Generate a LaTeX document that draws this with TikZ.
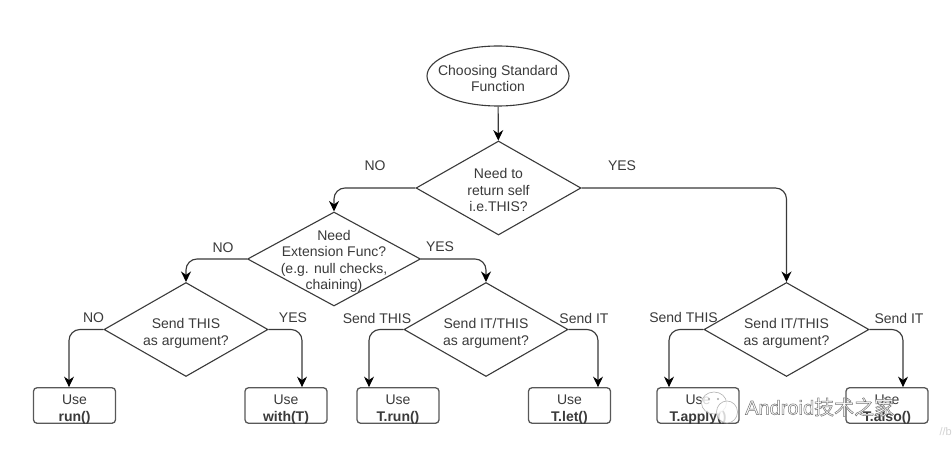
\documentclass[tikz,border=0pt]{standalone}
\usepackage{fontspec}
\setmainfont{Liberation Sans}
\newfontfamily\cjkfont{Noto Sans CJK SC}
\usetikzlibrary{shapes.geometric,arrows.meta}
\definecolor{ink}{HTML}{3A3A3A}
\newcommand{\dtext}[2][0pt]{\smash{\makebox[0pt]{\raisebox{#1}{\begin{tabular}[c]{@{}c@{}}#2\end{tabular}}}}}
\tikzset{
  x=1pt,y=-1pt,
  every node/.style={font=\fontsize{14}{16.5}\selectfont,text=ink},
  startbox/.style={ellipse,draw=ink,line width=1.1pt,minimum width=142pt,minimum height=60pt,inner sep=0pt},
  choice/.style={diamond,draw=ink,line width=1.1pt,inner sep=0pt,minimum width=165pt,minimum height=94pt},
  usebox/.style={rectangle,rounded corners=3.5pt,draw=ink!85,line width=1.3pt,minimum width=82pt,minimum height=35.5pt,inner sep=0pt},
  flow/.style={draw=ink,line width=1.15pt,rounded corners=11pt,-{Stealth[length=10.5pt,width=10pt,color=black]}},
  branch/.style={inner sep=0pt},
}
\begin{document}
\begin{tikzpicture}
\useasboundingbox[fill=white] (0,0) rectangle (952,449);
\node[startbox] (start) at (498,76) {\dtext[-8pt]{Choosing Standard\\Function}};
\node[choice] (self) at (498.5,188) {\dtext[-7.5pt]{Need to\\return self\\i.e.THIS?}};
\node[choice,minimum width=173pt] (ext) at (334,259) {\dtext[-6.5pt]{Need\\Extension Func?\\(e.g. null checks,\\chaining)}};
\node[choice,minimum width=164pt] (argl) at (186,329.5) {\dtext[-8pt]{Send THIS\\as argument?}};
\node[choice,minimum width=164pt] (argm) at (486,329.5) {\dtext[-8pt]{Send IT/THIS\\as argument?}};
\node[choice,minimum width=165pt] (argr) at (786.5,329.5) {\dtext[-8pt]{Send IT/THIS\\as argument?}};
\node[usebox] (run) at (74.5,405.5) {\dtext[-8pt]{Use\\\textbf{run()}}};
\node[usebox] (with) at (286,405.5) {\dtext[-8pt]{Use\\\textbf{with(T)}}};
\node[usebox] (trun) at (398,405.5) {\dtext[-8pt]{Use\\\textbf{T.run()}}};
\node[usebox] (tlet) at (569.5,405.5) {\dtext[-8pt]{Use\\\textbf{T.let()}}};
\node[usebox] (tapply) at (698,405.5) {\dtext[-8pt]{Use\\\textbf{T.apply()}}};
\node[usebox] (talso) at (887,405.5) {\dtext[-8pt]{Use\\\textbf{T.also()}}};
\draw[flow] (start) -- (self);
\draw[flow] (self.west) -| (ext.north);
\draw[flow] (self.east) -| (argr.north);
\draw[flow] (ext.west) -| (argl.north);
\draw[flow] (ext.east) -| (argm.north);
\draw[flow] (argl.west) -| ([xshift=-5.5pt]run.north);
\draw[flow] (argl.east) -| ([xshift=16pt]with.north);
\draw[flow] (argm.west) -| ([xshift=-29pt]trun.north);
\draw[flow] (argm.east) -| ([xshift=28.5pt]tlet.north);
\draw[flow] (argr.west) -| ([xshift=-29pt]tapply.north);
\draw[flow] (argr.east) -| ([xshift=16pt]talso.north);
\node[branch] (l1) at (375,165.5) {NO};
\node[branch] (l2) at (622,165.5) {YES};
\node[branch] (l3) at (223,247.5) {NO};
\node[branch] (l4) at (440,246.5) {YES};
\node[branch] (l5) at (93.5,318) {NO};
\node[branch] (l6) at (293,318) {YES};
\node[branch] (l7) at (377,318) {Send THIS};
\node[branch] (l8) at (584,318) {Send IT};
\node[branch] (l9) at (683.5,317) {Send THIS};
\node[branch] (l10) at (899,318) {Send IT};
% watermark
\draw[gray!60,line width=.6pt,fill=white,fill opacity=.8] (714,403) ellipse (12.5pt and 11pt);
\draw[gray!60,line width=.6pt,fill=white,fill opacity=.8] (727,412) ellipse (10.5pt and 11pt);
\fill[gray!70] (709,399) circle (1.2pt) (718,399) circle (1.2pt);
\node[inner sep=0pt,anchor=west] (mark) at (745,407) {\fontsize{20}{24}\selectfont\special{pdf:code q 2 Tr 0.5 w 0.45 G 1 g}Android{\cjkfont 技术之家}\special{pdf:code Q}};
\node[inner sep=0pt,anchor=east,text=gray!35,font=\fontsize{11}{13}\selectfont] (tail) at (952,432) {//b};
\end{tikzpicture}
\end{document}
